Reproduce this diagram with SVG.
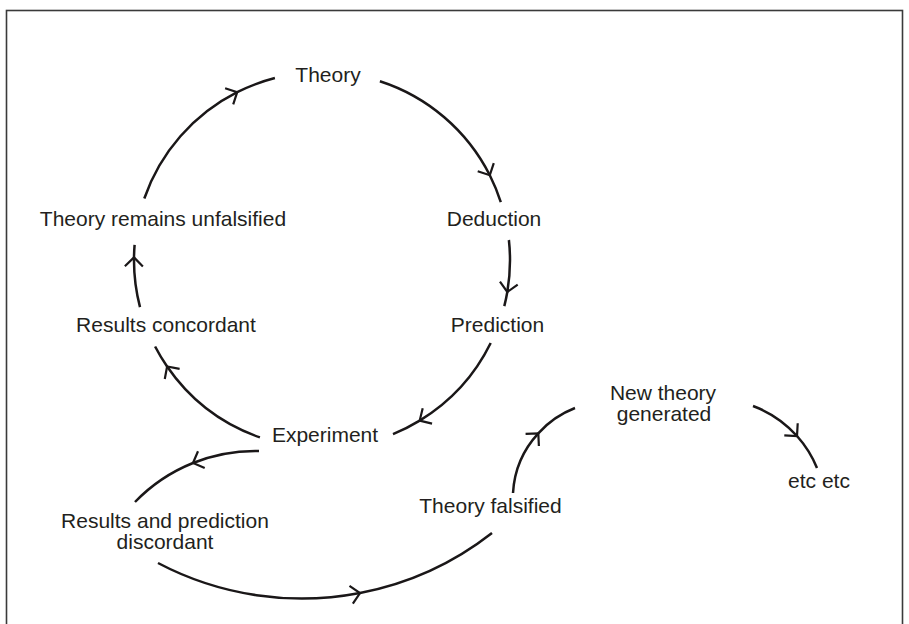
<svg xmlns="http://www.w3.org/2000/svg" width="909" height="624" viewBox="0 0 909 624">
<style>
  text { font-family: "Liberation Sans", Arial, sans-serif; font-size: 21px; fill: #231f20; text-anchor: middle; }
  .c { fill: none; stroke: #1a1718; stroke-width: 2.5; marker-mid: url(#chev); }
</style>
<defs>
  <marker id="chev" viewBox="-12 -12 24 24" markerWidth="24" markerHeight="24" refX="0" refY="0" markerUnits="userSpaceOnUse" orient="auto">
    <path d="M-9,-9 L0,0 L-9,9" fill="none" stroke="#1a1718" stroke-width="2.2"/>
  </marker>
</defs>
<rect x="6.5" y="10.5" width="896" height="630" fill="#fff" stroke="#3a3a3a" stroke-width="1.6"/>
<g id="connectors">
  <path class="c" d="M144.3,198.5 A188,188 0 0 1 237.2,92.2 A188,188 0 0 1 274.9,78"/>
  <path class="c" d="M379.9,81.2 A188,188 0 0 1 489.8,175.2 A188,188 0 0 1 500.8,202.1"/>
  <path class="c" d="M508.9,240 A188,188 0 0 1 507.3,292 A188,188 0 0 1 504.3,306.1"/>
  <path class="c" d="M490.7,343 A188,188 0 0 1 419.7,420.6 A188,188 0 0 1 393,434.1"/>
  <path class="c" d="M259.9,437.4 A188,188 0 0 1 167.1,366.5 A188,188 0 0 1 155.1,346.5"/>
  <path class="c" d="M140,307.1 A188,188 0 0 1 134,257.4 A188,188 0 0 1 134.6,244.9"/>
  <path class="c" d="M259,451 A167.2,167.2 0 0 0 193,463 A167.2,167.2 0 0 0 135,502"/>
  <path class="c" d="M158,563 A308.7,308.7 0 0 0 360,593 A308.7,308.7 0 0 0 492,533"/>
  <path class="c" d="M513,493 A95.7,95.7 0 0 1 538.3,433.3 A95.7,95.7 0 0 1 575,408"/>
  <path class="c" d="M753,406 A110.8,110.8 0 0 1 797,436 A110.8,110.8 0 0 1 817,468"/>
</g>
<g id="theory"><text x="328" y="82">Theory</text></g>
<g id="deduction"><text x="494" y="226">Deduction</text></g>
<g id="prediction"><text x="497.5" y="332">Prediction</text></g>
<g id="experiment"><text x="325" y="442">Experiment</text></g>
<g id="results-concordant"><text x="166" y="332">Results concordant</text></g>
<g id="theory-remains"><text x="163" y="226">Theory remains unfalsified</text></g>
<g id="results-discordant"><text x="165" y="528">Results and prediction</text><text x="165" y="549">discordant</text></g>
<g id="theory-falsified"><text x="490.5" y="513">Theory falsified</text></g>
<g id="new-theory"><text x="663" y="400">New theory</text><text x="664" y="421">generated</text></g>
<g id="etc"><text x="819" y="488">etc etc</text></g>
</svg>
